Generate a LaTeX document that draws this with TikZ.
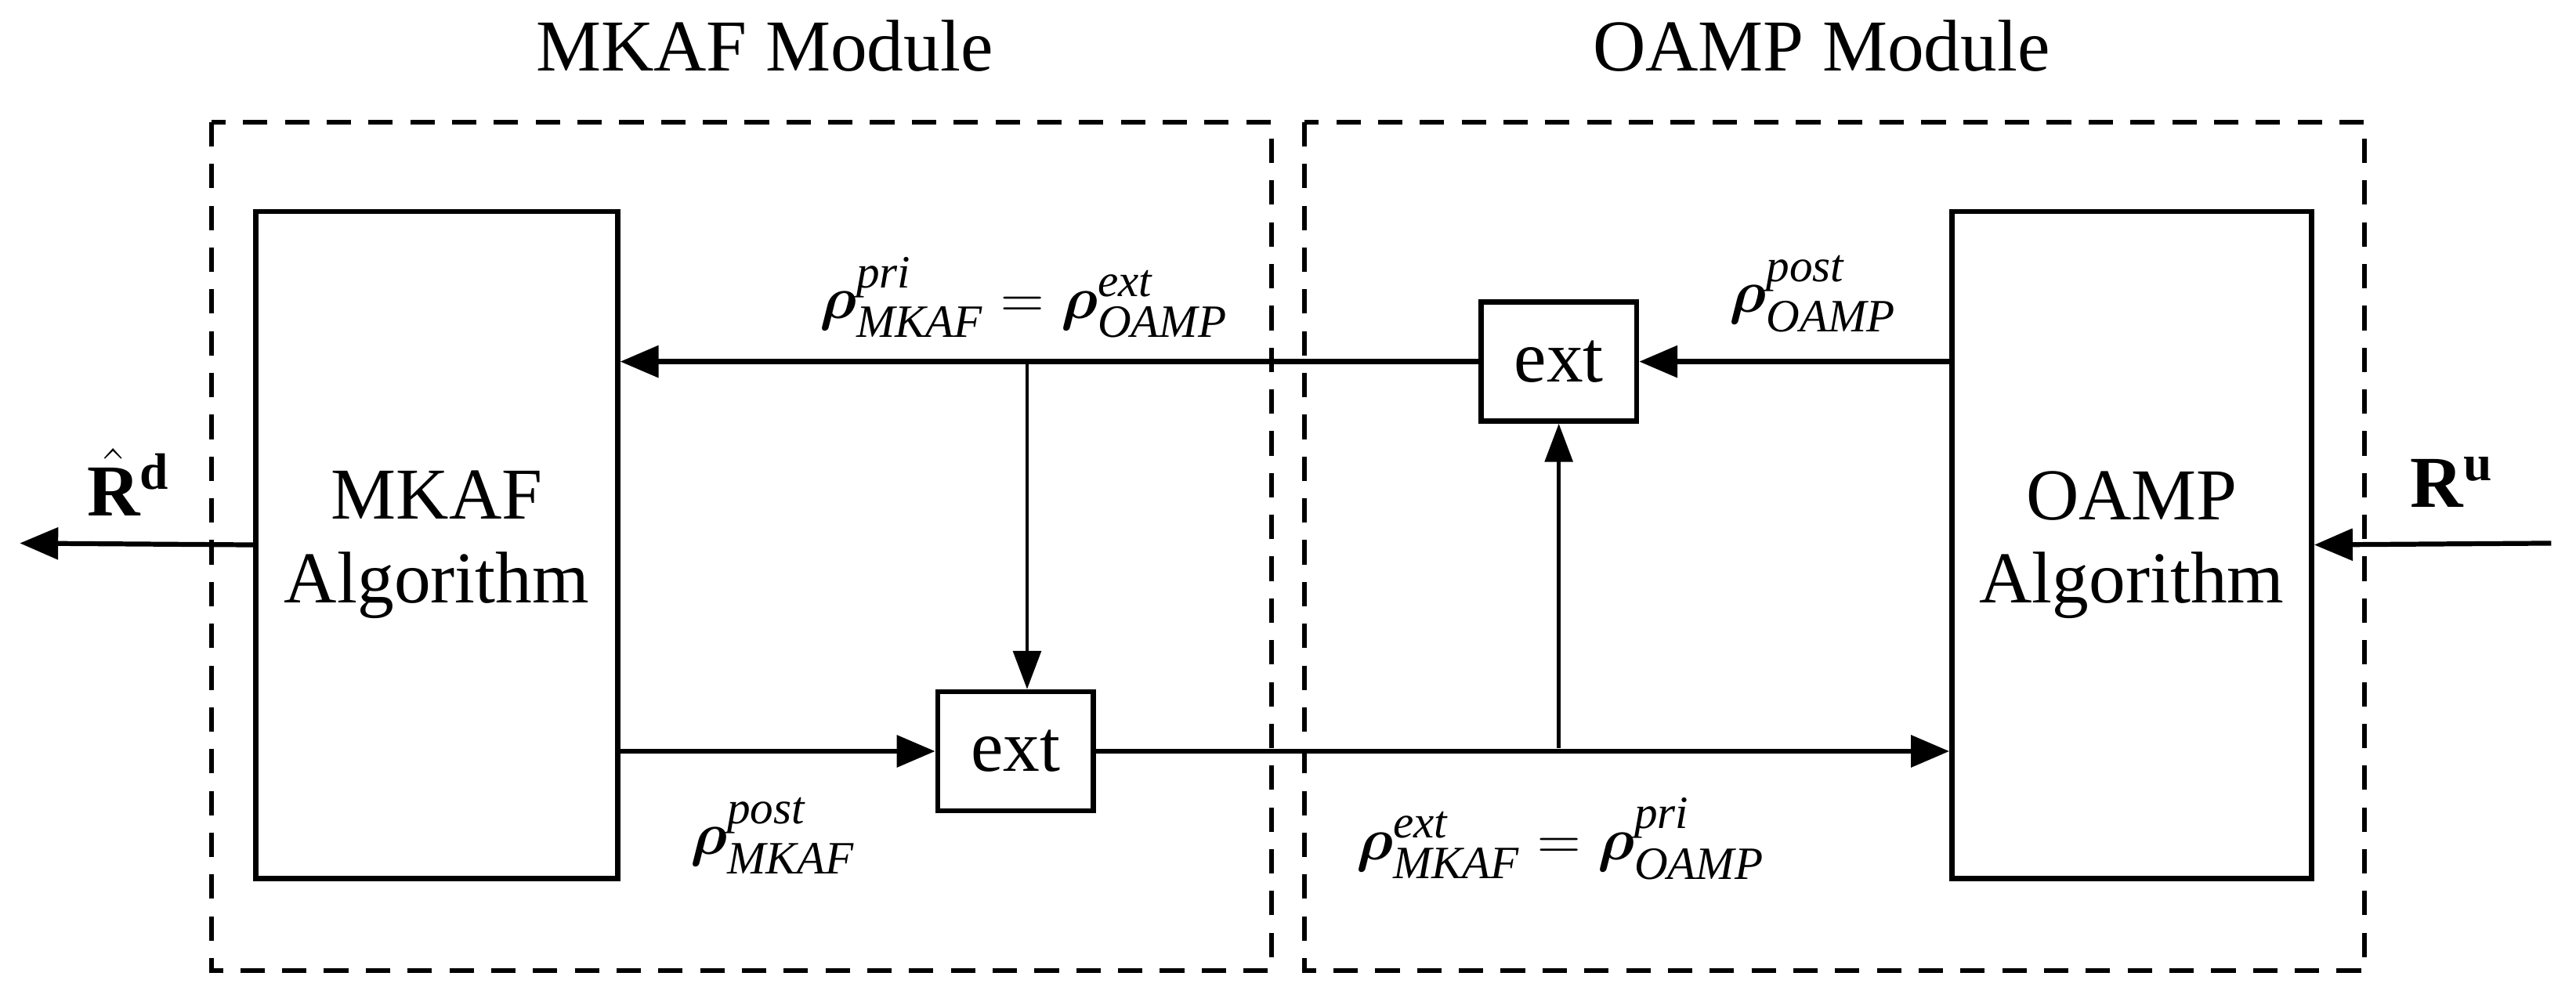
\documentclass[tikz,border=0pt]{standalone}
\usepackage{amsmath,bm}
\usepackage{fontspec}
\setmainfont{Liberation Serif}
\usetikzlibrary{arrows.meta}
\begin{document}
\begin{tikzpicture}[x=0.016667cm,y=-0.016667cm,
  blk/.style={draw,line width=1.5pt,inner sep=0pt,font=\fontsize{21}{24}\selectfont,align=center},
  mod/.style={draw,line width=1.3pt,dash pattern=on 7pt off 5pt},
  arr/.style={line width=1.4pt,-{Triangle[length=11pt,width=9pt]}},
  thin/.style={line width=1pt,-{Triangle[length=11pt,width=8pt]}},
  lbl/.style={font=\fontsize{21}{24}\selectfont},
  ml/.style={font=\fontsize{19}{22}\selectfont}]
\useasboundingbox (0,0) rectangle (1560,604);
\newcommand{\rr}[2]{\bm{\rho}^{\textit{#1}}_{\textit{#2}}}
\node[lbl] (t1) at (463,28) {MKAF Module};
\node[lbl] (t2) at (1103,28) {OAMP Module};
\draw[mod] (128,74) rectangle (770,588);
\draw[mod] (790,74) rectangle (1432,588);
\node[blk,minimum width=3.65cm,minimum height=6.73cm] (mk) at (264.5,330) {MKAF\\Algorithm};
\node[blk,minimum width=3.63cm,minimum height=6.73cm] (oa) at (1291,330) {OAMP\\Algorithm};
\node[blk,minimum width=1.57cm,minimum height=1.2cm] (e1) at (944,219) {ext};
\node[blk,minimum width=1.57cm,minimum height=1.2cm] (e2) at (615,455) {ext};
\coordinate (b1) at (622,220); \coordinate (b2) at (944,453);
\coordinate (outL) at (12,329); \coordinate (inR) at (1545,329);
\draw[arr] (e1.west) -- (mk.east |- e1.west);
\draw[arr] (oa.west |- e1.east) -- (e1.east);
\draw[thin] (b1) -- (b1 |- e2.north);
\draw[arr] (mk.east |- e2.west) -- (e2.west);
\draw[arr] (e2.east) -- (oa.west |- e2.east);
\draw[thin] (b2) -- (e1.south);
\draw[arr] (mk.west) -- (outL);
\draw[arr] (inR) -- (oa.east);
\node[lbl] (rd) at (78,292) {$\hat{\mathbf{R}}^{\mathbf{d}}$};
\node[lbl] (ru) at (1485,292) {$\mathbf{R}^{\mathbf{u}}$};
\node[ml] (l1) at (620,180) {$\rr{pri}{MKAF}=\rr{ext}{OAMP}$};
\node[ml] (l2) at (1098,178) {$\rr{post}{OAMP}$};
\node[ml] (l3) at (468,506) {$\rr{post}{MKAF}$};
\node[ml] (l4) at (945,508) {$\rr{ext}{MKAF}=\rr{pri}{OAMP}$};
\end{tikzpicture}
\end{document}
